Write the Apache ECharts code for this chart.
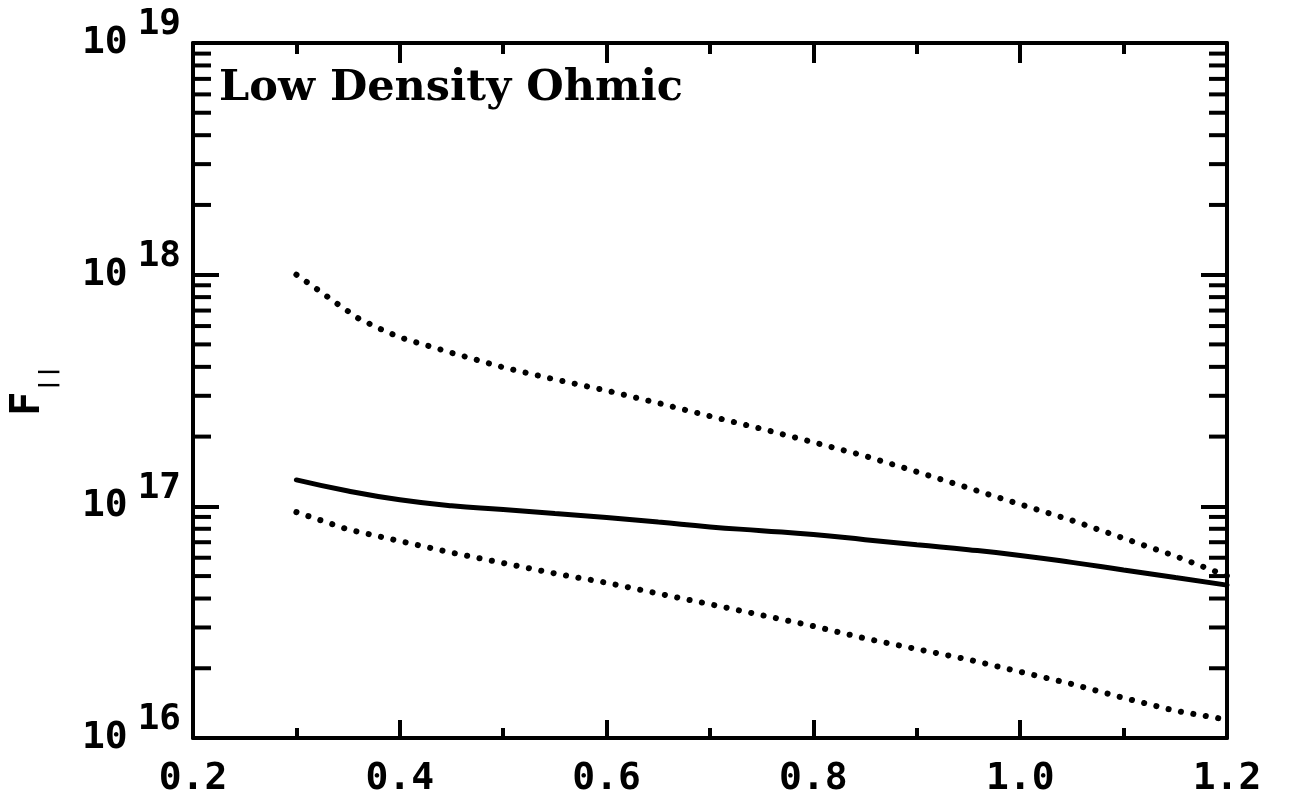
<!DOCTYPE html>
<html>
<head>
<meta charset="utf-8">
<script src="https://cdn.jsdelivr.net/npm/echarts@6/dist/echarts.min.js"></script>
<style>
  html, body { margin: 0; padding: 0; background: #fff; }
  #chart { width: 1289px; height: 799px; }
</style>
</head>
<body>
<div id="chart"></div>
<script>
// Upper bound (dotted)
const upperX = [0.30, 0.32, 0.34, 0.36, 0.38, 0.40, 0.45, 0.50, 0.55, 0.60, 0.65, 0.70, 0.75, 0.80, 0.85, 0.90, 0.95, 1.00, 1.05, 1.10, 1.15, 1.20];
const upperF = [1.00e18, 8.65e17, 7.46e17, 6.47e17, 5.86e17, 5.36e17, 4.60e17, 3.98e17, 3.53e17, 3.16e17, 2.79e17, 2.45e17, 2.16e17, 1.89e17, 1.65e17, 1.41e17, 1.20e17, 1.02e17, 8.70e16, 7.28e16, 6.10e16, 5.01e16];

// Central estimate (solid)
const centralX = [0.30, 0.35, 0.40, 0.45, 0.50, 0.55, 0.60, 0.65, 0.70, 0.75, 0.80, 0.85, 0.90, 0.95, 1.00, 1.05, 1.10, 1.15, 1.20];
const centralF = [1.30e17, 1.164e17, 1.067e17, 1.005e17, 9.70e16, 9.31e16, 8.95e16, 8.55e16, 8.15e16, 7.85e16, 7.55e16, 7.18e16, 6.82e16, 6.50e16, 6.14e16, 5.73e16, 5.31e16, 4.93e16, 4.57e16];

// Lower bound (dotted)
const lowerX = [0.30, 0.35, 0.40, 0.45, 0.50, 0.55, 0.60, 0.65, 0.70, 0.75, 0.80, 0.85, 0.90, 0.95, 1.00, 1.05, 1.10, 1.15, 1.20];
const lowerF = [9.44e16, 7.94e16, 7.08e16, 6.31e16, 5.69e16, 5.13e16, 4.68e16, 4.20e16, 3.78e16, 3.39e16, 3.04e16, 2.69e16, 2.42e16, 2.18e16, 1.93e16, 1.71e16, 1.49e16, 1.31e16, 1.20e16];

// Axis ranges and tick layout
const xMin = 0.2, xMax = 1.2, xStep = 0.2;
const yMin = 1e16, yMax = 1e19;
const decadeExponents = [16, 17, 18];
const minorMultipliers = [2, 3, 4, 5, 6, 7, 8, 9];

const titleText = 'Low Density Ohmic';
const FONT = '"DejaVu Sans Mono", monospace';
const TITLE_FONT = '"DejaVu Serif", serif';

// minor tick values for the log axis (2..9 times each decade)
const minorTickValues = [];
decadeExponents.forEach(e => minorMultipliers.forEach(m => minorTickValues.push([m * Math.pow(10, e)])));

const pairs = (xs, ys) => xs.map((x, i) => [x, ys[i]]);

const chart = echarts.init(document.getElementById('chart'), null, { renderer: 'canvas' });

const axisLine = { show: true, onZero: false, lineStyle: { color: '#000', width: 4 } };

// "10" centred on the tick, exponent raised above it
const yLabel = {
  formatter: v => '{b|10}{s|' + Math.round(Math.log10(v)) + '}',
  margin: 12,
  rich: {
    b: { fontFamily: FONT, fontWeight: 'bold', fontSize: 38, color: '#000', lineHeight: 72, verticalAlign: 'middle' },
    s: { fontFamily: FONT, fontWeight: 'bold', fontSize: 36, color: '#000', lineHeight: 72, verticalAlign: 'top', padding: [0, 0, 0, 10] }
  }
};

chart.setOption({
  animation: false,
  backgroundColor: '#fff',
  title: {
    text: titleText,
    left: 214,
    top: 62,
    textStyle: { fontFamily: TITLE_FONT, fontWeight: 'bold', fontSize: 43, color: '#000' }
  },
  grid: { left: 193, right: 62, top: 43, bottom: 61, outerBoundsMode: 'none', containLabel: false },
  xAxis: [
    {
      type: 'value', position: 'bottom', min: xMin, max: xMax, interval: xStep,
      axisLine,
      axisTick: { show: true, inside: true, length: 18, lineStyle: { color: '#000', width: 4 } },
      minorTick: { show: true, splitNumber: 2, length: 10, lineStyle: { color: '#000', width: 4 } },
      splitLine: { show: false },
      axisLabel: {
        margin: 22,
        fontFamily: FONT, fontWeight: 'bold', fontSize: 38, color: '#000',
        formatter: v => v.toFixed(1)
      }
    },
    {
      type: 'value', position: 'top', min: xMin, max: xMax, interval: xStep,
      axisLine,
      axisTick: { show: true, inside: true, length: 20, lineStyle: { color: '#000', width: 4 } },
      minorTick: { show: true, splitNumber: 2, length: 11, lineStyle: { color: '#000', width: 4 } },
      splitLine: { show: false },
      axisLabel: { show: false }
    }
  ],
  yAxis: [
    {
      type: 'log', logBase: 10, position: 'left', min: yMin, max: yMax, interval: 1,
      axisLine,
      axisTick: { show: true, inside: true, length: 26, lineStyle: { color: '#000', width: 4 } },
      splitLine: { show: false },
      axisLabel: yLabel,
      name: '{f|F}{sub|||}',
      nameLocation: 'middle',
      nameRotate: 90,
      nameGap: 134,
      nameTextStyle: {
        rich: {
          f: { fontFamily: FONT, fontWeight: 'bold', fontSize: 40, color: '#000', lineHeight: 50, verticalAlign: 'top' },
          sub: { fontFamily: FONT, fontWeight: 'bold', fontSize: 22, color: '#000', lineHeight: 50, verticalAlign: 'bottom' }
        }
      }
    },
    {
      type: 'log', logBase: 10, position: 'right', min: yMin, max: yMax, interval: 1,
      axisLine,
      axisTick: { show: true, inside: true, length: 26, lineStyle: { color: '#000', width: 4 } },
      splitLine: { show: false },
      axisLabel: { show: false }
    }
  ],
  series: [
    {
      // minor ticks of the log axes, placed through the y scale
      type: 'custom',
      name: 'minor ticks',
      xAxisIndex: 0, yAxisIndex: 0,
      silent: true,
      clip: false,
      data: minorTickValues,
      encode: { y: 0 },
      renderItem: (params, api) => {
        const v = api.value(0);
        const l = api.coord([xMin, v]);
        const r = api.coord([xMax, v]);
        const len = 18;
        const style = { stroke: '#000', lineWidth: 4 };
        return {
          type: 'group',
          children: [
            { type: 'line', shape: { x1: l[0], y1: l[1], x2: l[0] + len, y2: l[1] }, style },
            { type: 'line', shape: { x1: r[0], y1: r[1], x2: r[0] - len, y2: r[1] }, style }
          ]
        };
      }
    },
    {
      type: 'line', name: 'upper', data: pairs(upperX, upperF),
      showSymbol: false, smooth: false,
      lineStyle: { color: '#000', width: 6, type: [0.1, 12.5], cap: 'round' }
    },
    {
      type: 'line', name: 'central', data: pairs(centralX, centralF),
      showSymbol: false, smooth: true,
      lineStyle: { color: '#000', width: 5, type: 'solid', cap: 'round' }
    },
    {
      type: 'line', name: 'lower', data: pairs(lowerX, lowerF),
      showSymbol: false, smooth: false,
      lineStyle: { color: '#000', width: 6, type: [0.1, 12.5], cap: 'round' }
    }
  ]
});
</script>
</body>
</html>
